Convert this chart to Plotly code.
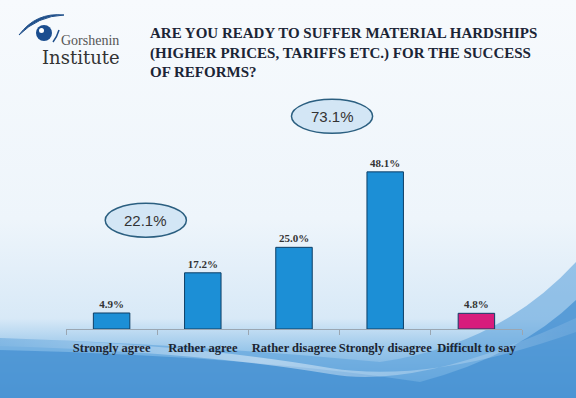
import base64
import plotly.graph_objects as go

# ---- data ----
categories = ["Strongly agree", "Rather agree", "Rather disagree", "Strongly disagree", "Difficult to say"]
values = [4.9, 17.2, 25.0, 48.1, 4.8]
bar_colors = ["#1c8fd6", "#1c8fd6", "#1c8fd6", "#1c8fd6", "#d81c7c"]
agree_total = round(values[0] + values[1], 1)
disagree_total = round(values[2] + values[3], 1)
title_lines = ["ARE YOU READY TO SUFFER MATERIAL HARDSHIPS",
               "(HIGHER PRICES, TARIFFS ETC.) FOR THE SUCCESS",
               "OF REFORMS?"]

W, H = 576, 398

def px(x, y):
    return x / W, 1 - y / H

# ---- background (decoration) as SVG ----
svg = f'''<svg xmlns="http://www.w3.org/2000/svg" width="{W}" height="{H}" viewBox="0 0 {W} {H}" preserveAspectRatio="none">
<defs>
<linearGradient id="g" x1="0" y1="0" x2="0" y2="1">
<stop offset="0" stop-color="#f7fafd"/>
<stop offset="0.55" stop-color="#eef5fb"/>
<stop offset="0.80" stop-color="#d8e9f7"/>
<stop offset="0.88" stop-color="#98c6ea"/>
<stop offset="1" stop-color="#5b9ed8"/>
</linearGradient>
<linearGradient id="l" x1="0" y1="0" x2="1" y2="0">
<stop offset="0" stop-color="#ffffff" stop-opacity="0.05"/>
<stop offset="0.45" stop-color="#ffffff" stop-opacity="0.45"/>
<stop offset="1" stop-color="#ffffff" stop-opacity="0.1"/>
</linearGradient>
</defs>
<rect width="{W}" height="{H}" fill="url(#g)"/>
<path d="M0,338 Q 200,345 380,362 Q 500,345 576,262 L576,398 L0,398 Z" fill="#5fa3dc" opacity="0.6"/>
<path d="M0,350 Q 250,356 420,382 Q 520,355 576,300 L576,398 L0,398 Z" fill="#4690d2" opacity="0.75"/>
<path d="M0,346 Q 200,352 330,374 Q 420,390 576,318 L576,332 Q 430,384 330,368 Q 200,345 0,338 Z" fill="url(#l)"/>
</svg>'''
bg_src = "data:image/svg+xml;base64," + base64.b64encode(svg.encode()).decode()

fig = go.Figure()
fig.add_trace(go.Bar(
    x=categories, y=values, width=0.4,
    marker=dict(color=bar_colors, line=dict(color="#0e3f66", width=1)),
    texttemplate="%{y:.1f}%", textposition="outside", cliponaxis=False,
    textfont=dict(family="Liberation Serif", size=11, color="#333333", weight="bold"),
    hoverinfo="skip",
))

shapes = []
annotations = []

# summary ellipses (data coordinates)
for cx, cy, val in [(0.375, 33.3, agree_total), (2.417, 65.1, disagree_total)]:
    shapes.append(dict(type="circle", xref="x", yref="y",
                       x0=cx - 0.445, x1=cx + 0.445, y0=cy - 5.2, y1=cy + 5.2,
                       fillcolor="#d3e6f5", line=dict(color="#2b5f80", width=1.5)))
    annotations.append(dict(x=cx, y=cy, xref="x", yref="y", text=f"{val:.1f}%",
                            showarrow=False,
                            font=dict(family="Liberation Sans", size=15, color="#333333")))

# title
tx, ty = px(148, 22.5)
annotations.append(dict(x=tx, y=ty, xref="paper", yref="paper", xanchor="left", yanchor="top",
                        align="left", showarrow=False, text="<br>".join(title_lines),
                        font=dict(family="Liberation Serif", size=15, color="#1b2536", weight="bold")))

# logo
def p(x, y):
    a, b = px(x, y)
    return f"{a:.5f},{b:.5f}"

shapes.append(dict(type="path", xref="paper", yref="paper",
                   path=f"M{p(19,35)} Q{p(36,12)} {p(64,15)} Q{p(38,16)} {p(19,35)} Z",
                   fillcolor="#1f4f8a", line=dict(color="#1f4f8a", width=1)))
cx0, cy0 = px(36, 25)
cx1, cy1 = px(52, 41)
shapes.append(dict(type="circle", xref="paper", yref="paper", x0=cx0, y0=cy1, x1=cx1, y1=cy0,
                   fillcolor="#1a4d8f", line=dict(color="#1a4d8f", width=0)))
hx0, hy0 = px(39, 28)
hx1, hy1 = px(44, 33)
shapes.append(dict(type="circle", xref="paper", yref="paper", x0=hx0, y0=hy1, x1=hx1, y1=hy0,
                   fillcolor="#ffffff", line=dict(width=0)))
shapes.append(dict(type="path", xref="paper", yref="paper",
                   path=f"M{p(53,42)} Q{p(57,37)} {p(59,30)}",
                   line=dict(color="#1f4f8a", width=1.5)))
gx, gy = px(59, 40)
annotations.append(dict(x=gx, y=gy, xref="paper", yref="paper", xanchor="left", yanchor="middle",
                        showarrow=False, text="Gorshenin",
                        font=dict(family="Liberation Serif", size=14, color="#555555")))
ix, iy = px(40, 57)
annotations.append(dict(x=ix, y=iy, xref="paper", yref="paper", xanchor="left", yanchor="middle",
                        showarrow=False, text="Institute",
                        font=dict(family="DejaVu Serif", size=18, color="#333333")))

fig.update_layout(
    width=W, height=H,
    margin=dict(l=0, r=0, t=0, b=0, autoexpand=False),
    paper_bgcolor="#f5f9fd", plot_bgcolor="rgba(0,0,0,0)",
    showlegend=False,
    images=[dict(source=bg_src, xref="paper", yref="paper", x=0, y=1, sizex=1, sizey=1,
                 sizing="stretch", layer="below", xanchor="left", yanchor="top")],
    xaxis=dict(domain=[66 / W, 522 / W], range=[-0.5, 4.5], showgrid=False, zeroline=False,
               automargin=False, tickangle=0, ticklabelstandoff=7,
               showline=True, linecolor="#9aa6b2", linewidth=1,
               ticks="outside", tickson="boundaries", ticklen=5, tickcolor="#9aa6b2",
               tickfont=dict(family="Liberation Serif", size=12.5, color="#1c2430", weight="bold")),
    yaxis=dict(domain=[(H - 329) / H, (H - 84) / H], range=[0, 75], visible=False, automargin=False),
    shapes=shapes, annotations=annotations,
)

fig.write_html("out.html", config={"displayModeBar": False},
               post_script="document.body.style.margin='0';document.body.style.overflow='hidden';")
